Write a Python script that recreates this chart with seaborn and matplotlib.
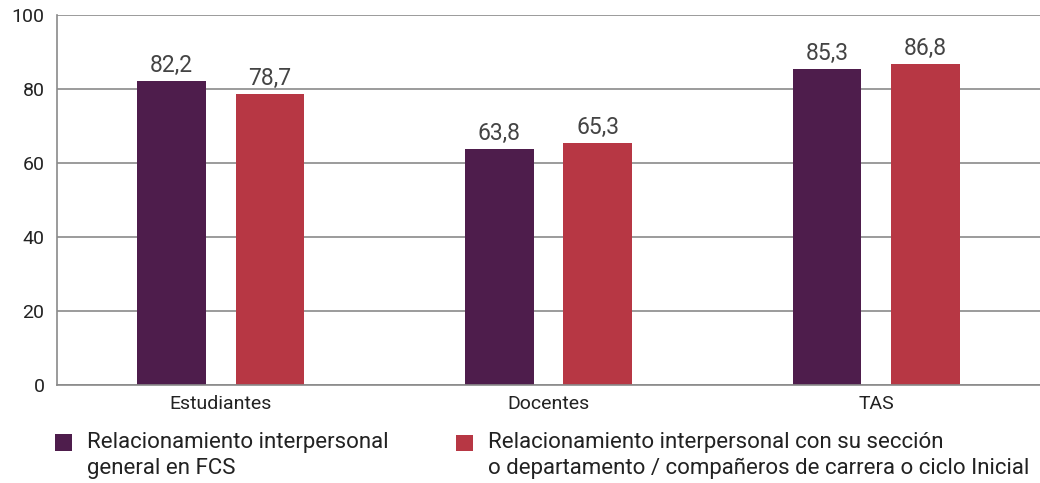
import matplotlib
matplotlib.use("Agg")
import matplotlib.pyplot as plt
import seaborn as sns
import pandas as pd
from matplotlib.patches import Patch, Rectangle
from matplotlib.legend_handler import HandlerPatch

categories = ["Estudiantes", "Docentes", "TAS"]
series_names = ["Relacionamiento interpersonal\ngeneral en FCS",
                "Relacionamiento interpersonal con su sección\no departamento / compañeros de carrera o ciclo Inicial"]
values_general = [82.2, 63.8, 85.3]
values_seccion = [78.7, 65.3, 86.8]
colors = ["#4E1D4C", "#B73744"]

df = pd.DataFrame({
    "cat": categories * 2,
    "serie": [series_names[0]] * 3 + [series_names[1]] * 3,
    "val": values_general + values_seccion,
})

sns.set_theme(style="white")
plt.rcParams['font.family'] = ['Roboto', 'DejaVu Sans']

fig = plt.figure(figsize=(10.4, 4.83), dpi=100)
ax = fig.add_axes([57/1040, 1-385/483, 1-57/1040, (385-15)/483])

sns.barplot(data=df, x="cat", y="val", hue="serie", order=categories,
            hue_order=series_names, palette=colors, width=0.6, gap=0.3,
            saturation=1, ax=ax, legend=False, linewidth=0, edgecolor="none")

ax.set_ylim(0, 100)
ax.set_xlim(-0.5, 2.5)
ax.set_yticks([0, 20, 40, 60, 80, 100])
ax.yaxis.grid(True, color="#8a8a8a", linewidth=1.2)
ax.set_axisbelow(True)
for s in ["top", "right"]:
    ax.spines[s].set_visible(False)
for s in ["left", "bottom"]:
    ax.spines[s].set_color("#8a8a8a")
    ax.spines[s].set_linewidth(1.2)
ax.tick_params(axis="y", length=0, labelsize=14, labelcolor="#222222", pad=9)
ax.tick_params(axis="x", length=0, labelsize=14, labelcolor="#222222", pad=7)
ax.set_xlabel("")
ax.set_ylabel("")

for cont, vals in zip(ax.containers, [values_general, values_seccion]):
    ax.bar_label(cont, labels=[f"{v:.1f}".replace(".", ",") for v in vals],
                 fontsize=16.5, color="#444444", padding=3)


class TopHandler(HandlerPatch):
    def __init__(self, shift, **kw):
        super().__init__(**kw)
        self.shift = shift

    def create_artists(self, legend, orig_handle, xdescent, ydescent,
                       width, height, fontsize, trans):
        p = Rectangle((-xdescent, -ydescent + self.shift), width, height,
                      facecolor=orig_handle.get_facecolor(), edgecolor="none")
        p.set_transform(trans)
        return [p]


def add_legend(color, label, x_px):
    h = Patch(facecolor=color, edgecolor="none")
    leg = fig.legend([h], [label], loc="upper left",
                     bbox_to_anchor=(x_px/1040, 1-432/483), frameon=False,
                     fontsize=16, handlelength=0.75, handleheight=0.75,
                     handletextpad=0.7, borderpad=0, borderaxespad=0,
                     handler_map={h: TopHandler(shift=9.5)})
    for t in leg.get_texts():
        t.set_color("#222222")
        t.set_linespacing(1.32)
    return leg


add_legend(colors[0], series_names[0], 55)
add_legend(colors[1], series_names[1], 456)

fig.savefig("out.png", dpi=100)
